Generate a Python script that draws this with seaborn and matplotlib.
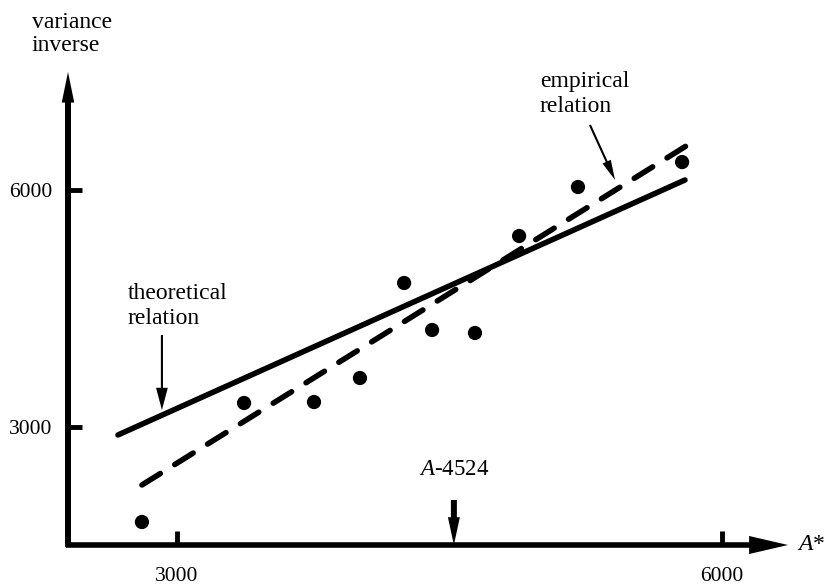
import numpy as np
import pandas as pd
import seaborn as sns
import matplotlib
matplotlib.use('Agg')
import matplotlib.pyplot as plt

# observed points (A*, variance inverse)
obs_a = [2807, 3369, 3754, 4007, 4250, 4404, 4640, 4883, 5207, 5780]
obs_v = [1797, 3304, 3316, 3620, 4823, 4228, 4190, 5418, 6038, 6354]

# line end points
theo_a = [2675, 5796]
theo_v = [2899, 6127]
emp_a = [2807, 5802]
emp_v = [2266, 6557]

x_ticks = [3000, 6000]
y_ticks = [3000, 6000]
a_mark = 4524

sns.set_theme(style="white")
plt.rcParams['font.family'] = ['Liberation Serif', 'DejaVu Serif']
plt.rcParams['text.color'] = 'black'
plt.rcParams['mathtext.fontset'] = 'custom'
plt.rcParams['mathtext.it'] = 'Liberation Serif:italic'
plt.rcParams['mathtext.rm'] = 'Liberation Serif'

W, H = 828, 587
fig = plt.figure(figsize=(W / 100, H / 100), dpi=100)
ax = fig.add_axes([68 / W, 42 / H, 720 / W, 473 / H])
ax.set_xlim(2400, 6363)
ax.set_ylim(1506, 7494)


def px(x, y):
    # pixel position (from top-left) -> figure fraction
    return x / W, 1 - y / H


def arrow(style, **kw):
    # filled arrow, no outline so the tip lands where it should
    return dict(arrowstyle=style, color="black", lw=0, shrinkA=0, shrinkB=0,
                mutation_scale=10, **kw)


pts = pd.DataFrame({"a": obs_a, "v": obs_v})
sns.scatterplot(data=pts, x="a", y="v", ax=ax, s=105, color="black",
                edgecolor="none", zorder=3)
sns.lineplot(x=theo_a, y=theo_v, ax=ax, color="black", lw=4,
             solid_capstyle="round")
sns.lineplot(x=emp_a, y=emp_v, ax=ax, color="black", lw=4)
ax.lines[-1].set_dashes((3.9, 3.06))
ax.lines[-1].set_dash_capstyle("round")

for s in ax.spines.values():
    s.set_visible(False)

# axis arrows
ax.annotate("", xy=(1.0, 0), xytext=(-0.003, 0), xycoords="axes fraction",
            arrowprops=arrow("simple,head_length=2.8,head_width=1.3,tail_width=0.4"),
            annotation_clip=False)
ax.annotate("", xy=(0, 1.0), xytext=(0, -0.004), xycoords="axes fraction",
            arrowprops=arrow("simple,head_length=2.2,head_width=0.9,tail_width=0.43"),
            annotation_clip=False)

ax.set_xticks(x_ticks)
ax.set_yticks(y_ticks)
ax.set_xticklabels([str(t) for t in x_ticks])
ax.set_yticklabels([str(t) for t in y_ticks])
ax.tick_params(axis="both", direction="in", length=10, width=3.5,
               color="black", labelsize=15.5, labelcolor="black",
               bottom=True, left=True)
ax.tick_params(axis="x", pad=16)
ax.tick_params(axis="y", pad=11)
ax.set_xlabel("")
ax.set_ylabel("")
ax.grid(False)

fig.text(*px(32, 34), "variance\ninverse", fontsize=17, va="center",
         ha="left", linespacing=1.15)
fig.text(*px(797, 545), "$A$*", fontsize=17, va="center", ha="left")
fig.text(*px(128, 306), "theoretical\nrelation", fontsize=17, va="center",
         ha="left", linespacing=1.25)
fig.text(*px(540, 94), "empirical\nrelation", fontsize=17, va="center",
         ha="left", linespacing=1.3)

ax.annotate("", xy=(2917, 3215), xytext=(2917, 4165),
            arrowprops=arrow("simple,head_length=1.6,head_width=0.85,tail_width=0.15"))
ax.annotate("", xy=(5411, 6127), xytext=(5273, 6823),
            arrowprops=arrow("simple,head_length=1.45,head_width=0.65,tail_width=0.15"))
ax.annotate("", xy=(a_mark, 1506), xytext=(a_mark, 2076),
            arrowprops=arrow("simple,head_length=2.0,head_width=0.86,tail_width=0.43"),
            annotation_clip=False)
ax.text(a_mark, 2456, "$A$-4524", fontsize=16.5, ha="center", va="center")

fig.savefig("out.png", dpi=100)
